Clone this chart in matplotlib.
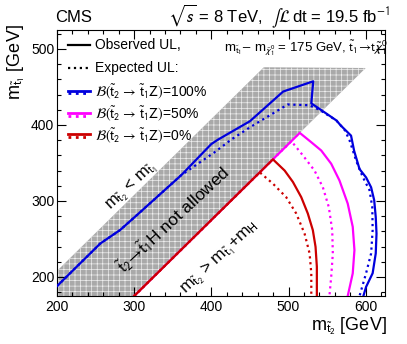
import matplotlib
matplotlib.use('Agg')
import matplotlib.pyplot as plt
from matplotlib.ticker import MultipleLocator
from matplotlib.lines import Line2D

plt.rcParams['font.family'] = ['Liberation Sans', 'DejaVu Sans']
plt.rcParams['mathtext.fontset'] = 'stixsans'
plt.rcParams['hatch.linewidth'] = 0.5

# Exclusion contours (m_t2, m_t1) in GeV
blue_obs_x = [200, 256, 282, 303, 361, 400, 409, 450, 493, 532, 529.5, 544, 562, 568, 581, 585, 592, 600.5, 607, 611, 613, 614, 613, 609, 600.5, 597]
blue_obs_y = [188, 244, 262, 281, 334, 375, 381, 405, 444, 457.5, 428.5, 418.5, 406, 399, 386, 366, 342, 331, 318, 301, 279, 257, 231, 205, 187, 175]
blue_exp_x = [200, 256, 282, 303, 361, 404, 426, 450, 499, 527, 540, 562, 573, 579, 588, 596, 605, 608.5, 609, 607, 600.5, 592]
blue_exp_y = [188, 244, 262, 281, 334, 364, 381, 397, 427, 426, 420, 406, 393, 380, 352, 332, 314, 292, 262, 231, 205, 175]
mag_obs_x = [300, 514.6, 529.5, 542.4, 555.3, 566, 576.7, 583.2, 585.4, 583.2, 576.7]
mag_obs_y = [175, 389.6, 377.3, 366.4, 349, 327, 296.6, 266, 235.4, 204.8, 175]
mag_exp_x = [300, 503.7, 518.6, 533.7, 544.5, 552.2, 556.6, 557.4, 555.3, 553]
mag_exp_y = [175, 378.7, 360, 340, 318, 292, 261.6, 231, 200.4, 175]
red_obs_x = [300, 479.8, 495, 505.7, 516.5, 525, 531.5, 535, 536.7, 536.7]
red_obs_y = [175, 354.8, 340, 325, 305, 283.5, 261.6, 239.7, 213.5, 175]
red_exp_x = [300, 462.7, 479.8, 497, 510, 520.8, 527.3, 529.5, 529.5]
red_exp_y = [175, 337.7, 322.8, 305, 283.5, 257, 231, 204.8, 175]

# kinematically forbidden band
band_x = [200, 300, 600, 468, 200]
band_y = [175, 175, 475, 476, 208]

W, H = 407, 344
fig = plt.figure(figsize=(W / 100, H / 100), dpi=100)
ax = fig.add_axes([57 / W, 1 - 296 / H, (385 - 57) / W, (296 - 30) / H])

def fp(px, py):
    return px / W, 1 - py / H

ax.fill(band_x, band_y, facecolor='#a9a9a9', edgecolor='#eeeeee', hatch='+++', linewidth=0, zorder=1)

blue, mag, red = '#0000dd', '#ff00ff', '#cc0000'
lw = 1.6
ax.plot(mag_obs_x, mag_obs_y, color=mag, lw=lw, zorder=3)
ax.plot(mag_exp_x, mag_exp_y, color=mag, lw=lw, ls=':', zorder=3)
ax.plot(red_obs_x, red_obs_y, color=red, lw=lw, zorder=4)
ax.plot(red_exp_x, red_exp_y, color=red, lw=lw, ls=':', zorder=4)
ax.plot(blue_exp_x, blue_exp_y, color=blue, lw=lw, ls=':', zorder=5)
ax.plot(blue_obs_x, blue_obs_y, color=blue, lw=lw, zorder=5)

ax.set_xlim(200, 625)
ax.set_ylim(175, 525)
ax.xaxis.set_major_locator(MultipleLocator(100))
ax.xaxis.set_minor_locator(MultipleLocator(20))
ax.yaxis.set_major_locator(MultipleLocator(100))
ax.yaxis.set_minor_locator(MultipleLocator(20))
ax.tick_params(which='both', direction='in', top=True, right=True, labelsize=10)
ax.tick_params(which='major', length=6.5, width=0.8)
ax.tick_params(which='minor', length=3.2, width=0.8)
ax.tick_params(axis='x', pad=3)
ax.tick_params(axis='y', pad=2)
for s in ax.spines.values():
    s.set_linewidth(0.8)

# axis titles
fig.text(*fp(387, 331), r'm$_{\tilde{\mathrm{t}}_2}$ [GeV]', ha='right', va='baseline', fontsize=13)
fig.text(*fp(16, 24), r'm$_{\tilde{\mathrm{t}}_1}$ [GeV]', ha='center', va='top', rotation=90, fontsize=13)

# header
fig.text(*fp(55, 22), 'CMS', ha='left', va='baseline', fontsize=12)
fig.text(*fp(390, 22), r'$\sqrt{s}$ = 8 TeV,  $\int\mathcal{L}\,$dt = 19.5 fb$^{-1}$',
         ha='right', va='baseline', fontsize=12)

fig.text(*fp(388, 52), r'm$_{\tilde{\mathrm{t}}_1}$$-$ m$_{\tilde{\chi}^0_1}$ = 175 GeV, $\tilde{\mathrm{t}}_1\!\rightarrow\!\mathrm{t}\tilde{\chi}^0_1$',
         ha='right', va='baseline', fontsize=9.5)

# legend drawn by hand
leg = [('k', 'Observed UL,', 'solid'),
       ('k', 'Expected UL:', 'dotted'),
       (blue, r'$\mathcal{B}(\tilde{\mathrm{t}}_2\,\rightarrow\,\tilde{\mathrm{t}}_1\mathrm{Z})$=100%', 'both'),
       (mag, r'$\mathcal{B}(\tilde{\mathrm{t}}_2\,\rightarrow\,\tilde{\mathrm{t}}_1\mathrm{Z})$=50%', 'both'),
       (red, r'$\mathcal{B}(\tilde{\mathrm{t}}_2\,\rightarrow\,\tilde{\mathrm{t}}_1\mathrm{Z})$=0%', 'both')]
leg_y = [45, 68, 92, 114, 136]
for (c, lab, st), py in zip(leg, leg_y):
    x0, _ = fp(68, py)
    x1, _ = fp(90, py)
    if st == 'both':
        for dy, ls in [(-1.5, '-'), (1.5, ':')]:
            _, yy = fp(0, py + dy)
            fig.add_artist(Line2D([x0, x1], [yy, yy], color=c, lw=2, ls=ls, transform=fig.transFigure))
    else:
        _, yy = fp(0, py)
        fig.add_artist(Line2D([x0, x1], [yy, yy], color=c, lw=1.6, ls='-' if st == 'solid' else ':', transform=fig.transFigure))
    fig.text(*fp(95, py), lab, ha='left', va='center', fontsize=10)

# region labels
ax.text(297, 318, r'm$_{\tilde{\mathrm{t}}_2}$ < m$_{\tilde{\mathrm{t}}_1}$', rotation=43,
        ha='center', va='center', fontsize=12, rotation_mode='anchor', zorder=6)
ax.text(350, 276, r'$\tilde{\mathrm{t}}_2\!\rightarrow\!\tilde{\mathrm{t}}_1$H not allowed', rotation=43,
        ha='center', va='center', fontsize=12.5, rotation_mode='anchor', zorder=6)
ax.text(412, 224, r'm$_{\tilde{\mathrm{t}}_2}$ > m$_{\tilde{\mathrm{t}}_1}$+m$_\mathrm{H}$', rotation=43,
        ha='center', va='center', fontsize=12.5, rotation_mode='anchor', zorder=6)

fig.savefig('out.png', dpi=100)
